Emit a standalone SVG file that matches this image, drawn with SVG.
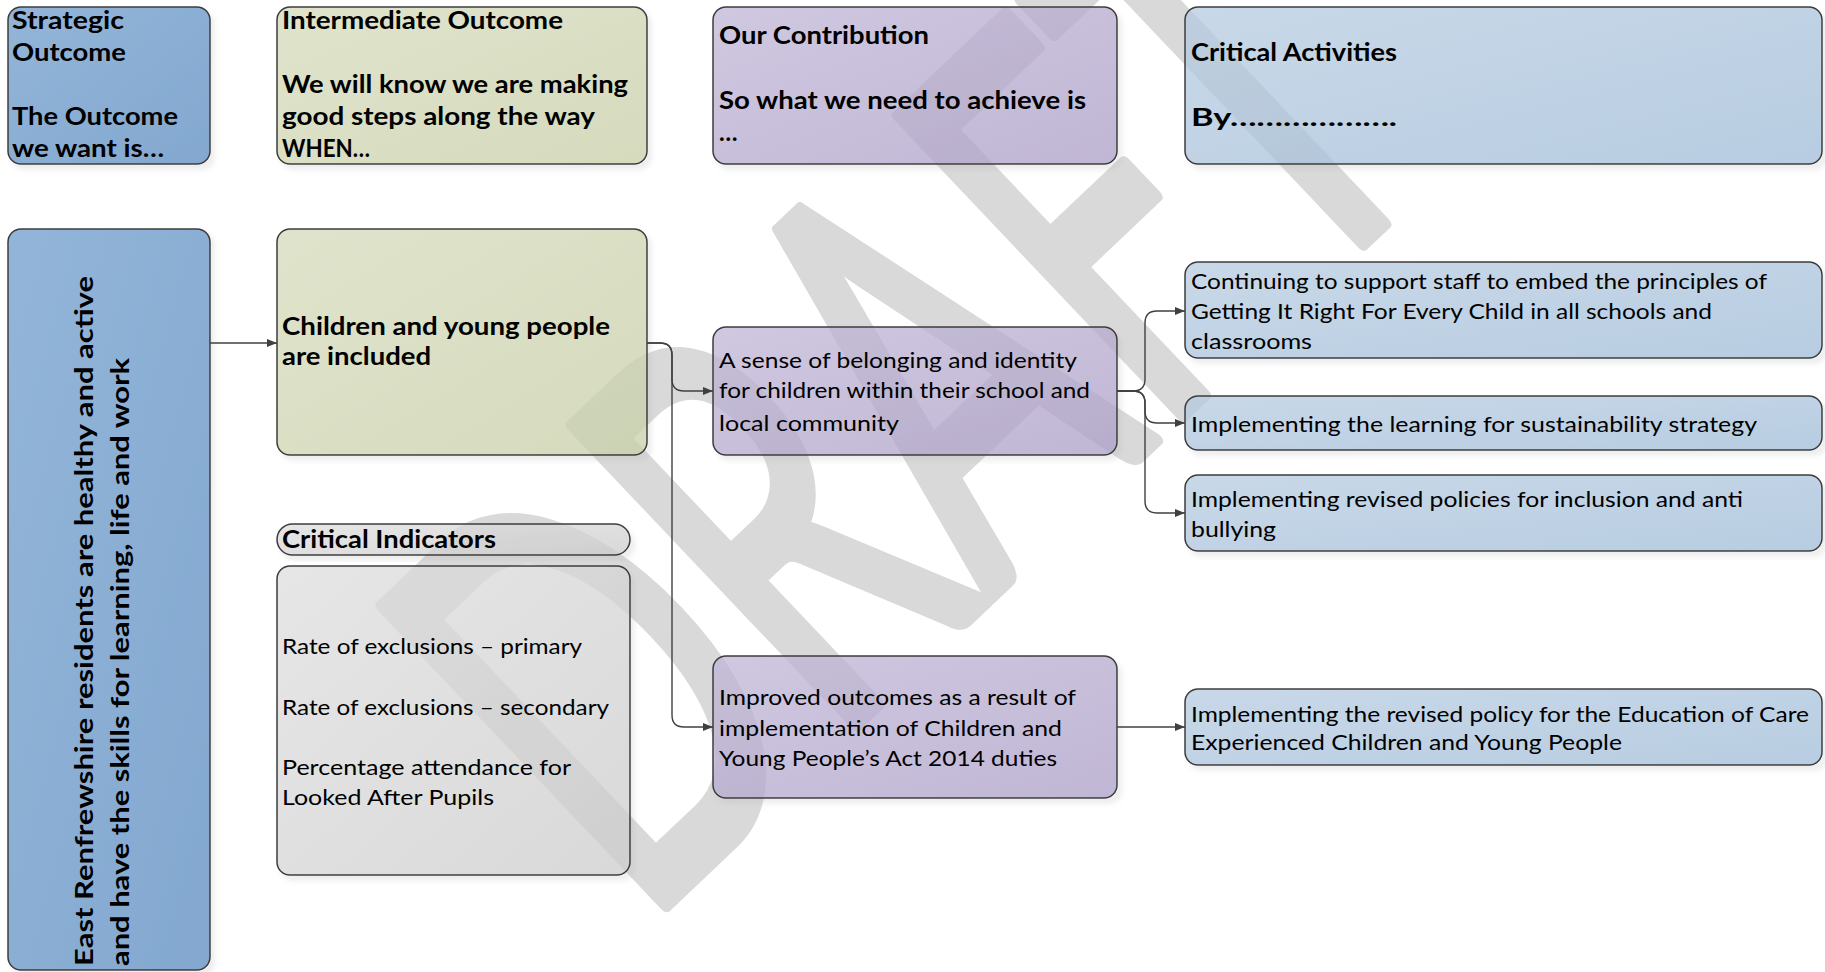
<svg xmlns="http://www.w3.org/2000/svg" width="1825" height="972" viewBox="0 0 1825 972">
<style>
.box{stroke:#3c3c3c;stroke-width:1.5;fill-opacity:0.75;filter:url(#sh)}
.b{fill:url(#gB)}
.g{fill:url(#gG)}
.p{fill:url(#gP)}
.l{fill:url(#gL)}
.k{fill:url(#gK)}
.t{font-family:Lato,"Liberation Sans",sans-serif;font-size:22px;fill:#000}
.tb{font-family:Lato,"Liberation Sans",sans-serif;font-size:24px;font-weight:bold;fill:#000}
.con{fill:none;stroke:#404040;stroke-width:1.4;marker-end:url(#arr)}
.wm{font-family:Lato,"Liberation Sans",sans-serif;font-size:575px;font-weight:normal;fill:#d9d9d9;stroke:#d9d9d9;stroke-width:14;stroke-linejoin:round}
</style>
<defs>
<linearGradient id="gB" x1="0" y1="0" x2="1" y2="1"><stop offset="0" stop-color="#6E9CCC"/><stop offset="1" stop-color="#5A8ABF"/></linearGradient>
<linearGradient id="gG" x1="0" y1="0" x2="1" y2="1"><stop offset="0" stop-color="#D4DABA"/><stop offset="1" stop-color="#C8CFA8"/></linearGradient>
<linearGradient id="gP" x1="0" y1="0" x2="1" y2="1"><stop offset="0" stop-color="#C0B6D6"/><stop offset="1" stop-color="#AB9EC7"/></linearGradient>
<linearGradient id="gL" x1="0" y1="0" x2="1" y2="1"><stop offset="0" stop-color="#B6CBE0"/><stop offset="1" stop-color="#A0BCD8"/></linearGradient>
<linearGradient id="gK" x1="0" y1="0" x2="1" y2="1"><stop offset="0" stop-color="#DEDEDE"/><stop offset="1" stop-color="#CCCCCC"/></linearGradient>
<filter id="sh" x="-10%" y="-10%" width="125%" height="130%">
<feComponentTransfer in="SourceAlpha" result="a"><feFuncA type="linear" slope="20"/></feComponentTransfer>
<feGaussianBlur in="a" stdDeviation="2.5" result="bl"/>
<feOffset in="bl" dx="4" dy="5" result="o"/>
<feComposite in="o" in2="a" operator="out" result="s"/>
<feColorMatrix in="s" type="matrix" values="0 0 0 0 0.45 0 0 0 0 0.45 0 0 0 0 0.45 0 0 0 0.22 0" result="c"/>
<feMerge><feMergeNode in="c"/><feMergeNode in="SourceGraphic"/></feMerge>
</filter>
<marker id="arr" markerWidth="10" markerHeight="8" refX="10" refY="4" orient="auto" markerUnits="userSpaceOnUse"><path d="M0,0 L10,4 L0,8 z" fill="#404040"/></marker>
</defs>

<g id="watermark">
<text class="wm" x="-49" y="0" transform="translate(663,908) rotate(-43.5) scale(0.6,1)">DRAFT</text>
</g>

<g id="hdr-strategic">
<rect class="box b" x="8" y="7" width="202" height="157" rx="13"/>
<text class="tb" x="12" y="29" textLength="112" lengthAdjust="spacingAndGlyphs">Strategic</text>
<text class="tb" x="12" y="61" textLength="114" lengthAdjust="spacingAndGlyphs">Outcome</text>
<text class="tb" x="12" y="125" textLength="166" lengthAdjust="spacingAndGlyphs">The Outcome</text>
<text class="tb" x="12" y="157" textLength="152" lengthAdjust="spacingAndGlyphs">we want is…</text>
</g>

<g id="hdr-intermediate">
<rect class="box g" x="277" y="7" width="370" height="157" rx="13"/>
<text class="tb" x="282" y="29" textLength="281" lengthAdjust="spacingAndGlyphs">Intermediate Outcome</text>
<text class="tb" x="282" y="93" textLength="346" lengthAdjust="spacingAndGlyphs">We will know we are making</text>
<text class="tb" x="282" y="125" textLength="313" lengthAdjust="spacingAndGlyphs">good steps along the way</text>
<text class="tb" x="282" y="157" textLength="88" lengthAdjust="spacingAndGlyphs">WHEN…</text>
</g>

<g id="hdr-contribution">
<rect class="box p" x="713" y="7" width="404" height="157" rx="13"/>
<text class="tb" x="719" y="44" textLength="210" lengthAdjust="spacingAndGlyphs">Our Contribution</text>
<text class="tb" x="719" y="109" textLength="367" lengthAdjust="spacingAndGlyphs">So what we need to achieve is</text>
<text class="tb" x="719" y="141">…</text>
</g>

<g id="hdr-activities">
<rect class="box l" x="1185" y="7" width="637" height="157" rx="13"/>
<text class="tb" x="1191" y="61" textLength="206" lengthAdjust="spacingAndGlyphs">Critical Activities</text>
<text class="tb" x="1191" y="126" textLength="206" lengthAdjust="spacingAndGlyphs">By……………….</text>
</g>

<g id="strategic-outcome">
<rect class="box b" x="8" y="229" width="202" height="741" rx="13"/>
<text class="tb" font-size="25" x="0" y="0" transform="translate(93,966) rotate(-90)" textLength="690" lengthAdjust="spacingAndGlyphs">East Renfrewshire residents are healthy and active</text>
<text class="tb" font-size="25" x="0" y="0" transform="translate(129,966) rotate(-90)" textLength="608" lengthAdjust="spacingAndGlyphs">and have the skills for learning, life and work</text>
</g>

<g id="children-included">
<rect class="box g" x="277" y="229" width="370" height="226" rx="13"/>
<text class="tb" font-size="23" x="282" y="335" textLength="328" lengthAdjust="spacingAndGlyphs">Children and young people</text>
<text class="tb" font-size="23" x="282" y="365" textLength="149" lengthAdjust="spacingAndGlyphs">are included</text>
</g>

<g id="indicators-title">
<rect class="box k" x="277" y="524" width="353" height="31" rx="15.5"/>
<text class="tb" font-size="23" x="282" y="548" textLength="214" lengthAdjust="spacingAndGlyphs">Critical Indicators</text>
</g>

<g id="indicators">
<rect class="box k" x="277" y="566" width="353" height="309" rx="13"/>
<text class="t" x="282" y="654" textLength="300" lengthAdjust="spacingAndGlyphs">Rate of exclusions – primary</text>
<text class="t" x="282" y="715" textLength="327" lengthAdjust="spacingAndGlyphs">Rate of exclusions – secondary</text>
<text class="t" x="282" y="775" textLength="289" lengthAdjust="spacingAndGlyphs">Percentage attendance for</text>
<text class="t" x="282" y="805" textLength="212" lengthAdjust="spacingAndGlyphs">Looked After Pupils</text>
</g>

<g id="belonging">
<rect class="box p" x="713" y="327" width="404" height="128" rx="13"/>
<text class="t" x="719" y="368" textLength="358" lengthAdjust="spacingAndGlyphs">A sense of belonging and identity</text>
<text class="t" x="719" y="398" textLength="371" lengthAdjust="spacingAndGlyphs">for children within their school and</text>
<text class="t" x="719" y="431" textLength="180" lengthAdjust="spacingAndGlyphs">local community</text>
</g>

<g id="improved-outcomes">
<rect class="box p" x="713" y="656" width="404" height="142" rx="13"/>
<text class="t" x="719" y="705" textLength="357" lengthAdjust="spacingAndGlyphs">Improved outcomes as a result of</text>
<text class="t" x="719" y="736" textLength="343" lengthAdjust="spacingAndGlyphs">implementation of Children and</text>
<text class="t" x="719" y="766" textLength="338" lengthAdjust="spacingAndGlyphs">Young People’s Act 2014 duties</text>
</g>

<g id="act-girfec">
<rect class="box l" x="1185" y="262" width="637" height="96" rx="13"/>
<text class="t" x="1191" y="289" textLength="576" lengthAdjust="spacingAndGlyphs">Continuing to support staff to embed the principles of</text>
<text class="t" x="1191" y="319" textLength="521" lengthAdjust="spacingAndGlyphs">Getting It Right For Every Child in all schools and</text>
<text class="t" x="1191" y="349" textLength="121" lengthAdjust="spacingAndGlyphs">classrooms</text>
</g>

<g id="act-sustainability">
<rect class="box l" x="1185" y="396" width="637" height="54" rx="13"/>
<text class="t" x="1191" y="432" textLength="566" lengthAdjust="spacingAndGlyphs">Implementing the learning for sustainability strategy</text>
</g>

<g id="act-inclusion">
<rect class="box l" x="1185" y="475" width="637" height="76" rx="13"/>
<text class="t" x="1191" y="507" textLength="552" lengthAdjust="spacingAndGlyphs">Implementing revised policies for inclusion and anti</text>
<text class="t" x="1191" y="537" textLength="85" lengthAdjust="spacingAndGlyphs">bullying</text>
</g>

<g id="act-care">
<rect class="box l" x="1185" y="689" width="637" height="76" rx="13"/>
<text class="t" x="1191" y="722" textLength="618" lengthAdjust="spacingAndGlyphs">Implementing the revised policy for the Education of Care</text>
<text class="t" x="1191" y="750" textLength="431" lengthAdjust="spacingAndGlyphs">Experienced Children and Young People</text>
</g>

<g id="connectors">
<path class="con" d="M210,343 H277"/>
<path class="con" d="M647,343 H660 Q672,343 672,355 V379 Q672,391 684,391 H713"/>
<path class="con" d="M647,343 H660 Q672,343 672,355 V715 Q672,727 684,727 H713"/>
<path class="con" d="M1117,391 H1133 Q1145,391 1145,379 V323 Q1145,311 1157,311 H1185"/>
<path class="con" d="M1117,391 H1133 Q1145,391 1145,403 V411 Q1145,423 1157,423 H1185"/>
<path class="con" d="M1117,391 H1133 Q1145,391 1145,403 V501 Q1145,513 1157,513 H1185"/>
<path class="con" d="M1117,727 H1185"/>
</g>
</svg>
